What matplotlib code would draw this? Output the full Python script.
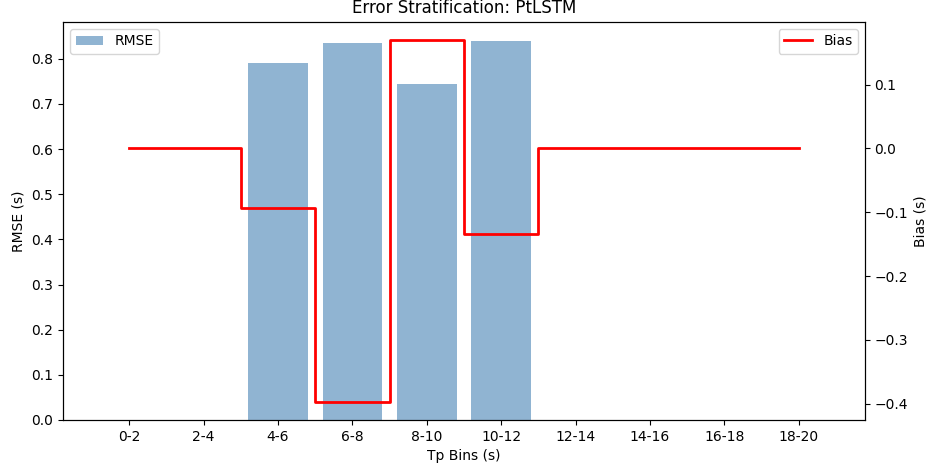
import numpy as np
import matplotlib
matplotlib.use('Agg')
from matplotlib import pyplot as plt

bins = ['0-2', '2-4', '4-6', '6-8', '8-10', '10-12', '12-14', '14-16', '16-18', '18-20']
rmse = [0, 0, 0.790, 0.836, 0.744, 0.840, 0, 0, 0, 0]
bias = [0, 0, -0.094, -0.397, 0.170, -0.134, 0, 0, 0, 0]

x = np.arange(len(bins))

fig, ax1 = plt.subplots(figsize=(9.32, 4.74), dpi=100)
fig.subplots_adjust(left=0.0676, right=0.928, bottom=0.114, top=0.954)

ax1.bar(x, rmse, color='steelblue', alpha=0.6, label='RMSE')
ax1.set_xticks(x)
ax1.set_xticklabels(bins)
ax1.set_xlabel('Tp Bins (s)')
ax1.set_ylabel('RMSE (s)')
ax1.legend(loc='upper left')

ax2 = ax1.twinx()
ax2.step(x, bias, where='mid', color='red', linewidth=2, label='Bias')
ax2.set_ylabel('Bias (s)')
ax2.legend(loc='upper right')

plt.title('Error Stratification: PtLSTM')
plt.savefig('out.png')
